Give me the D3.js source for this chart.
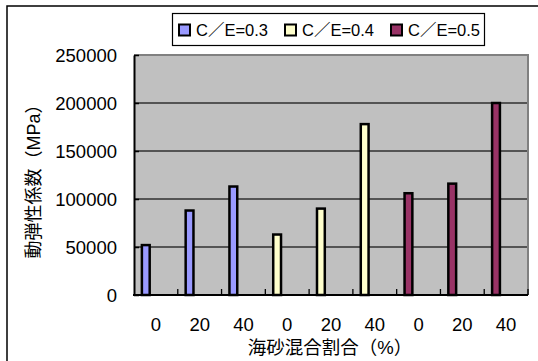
<!DOCTYPE html>
<html>
<head>
<meta charset="utf-8">
<script src="https://cdn.jsdelivr.net/npm/d3@7"></script>
<style>
  html, body { margin: 0; padding: 0; background: #fff; }
  svg { display: block; }
  text { font-family: "Liberation Sans", Arial, "Noto Sans CJK JP", sans-serif; fill: #000; }
</style>
</head>
<body>
<svg id="chart" width="538" height="361"></svg>
<script>
// Sea-sand mixing ratio categories (three groups, one per C/E ratio)
const categories = ["0", "20", "40", "0", "20", "40", "0", "20", "40"];
const seriesNames = ["C／E=0.3", "C／E=0.4", "C／E=0.5"];
const seriesColors = ["#9999FF", "#FFFFCC", "#993366"];
// Dynamic modulus of elasticity (MPa)
const valuesCE03 = [52000, 88000, 113000];
const valuesCE04 = [63000, 90000, 178000];
const valuesCE05 = [106000, 116000, 200000];
const yTicks = [0, 50000, 100000, 150000, 200000, 250000];
const yTitle = "動弾性係数（MPa）";
const xTitle = "海砂混合割合（%）";

const bars = [];
[valuesCE03, valuesCE04, valuesCE05].forEach((vals, s) => {
  vals.forEach((v, j) => bars.push({ idx: s * 3 + j, series: s, value: v }));
});

const svg = d3.select("#chart");
const plot = { left: 134, right: 528, top: 55, bottom: 295 };

// Outer chart frame
svg.append("rect")
  .attr("x", 7).attr("y", 6).attr("width", 560).attr("height", 380)
  .attr("fill", "#fff").attr("stroke", "#000").attr("stroke-width", 1.5);

const x = d3.scaleBand().domain(d3.range(categories.length))
  .range([plot.left, plot.right]).padding(0);
const y = d3.scaleLinear().domain([0, 250000]).range([plot.bottom, plot.top]);

// Plot area background
svg.append("rect")
  .attr("x", plot.left).attr("y", plot.top)
  .attr("width", plot.right - plot.left).attr("height", plot.bottom - plot.top)
  .attr("fill", "#C0C0C0");

// Gridlines
svg.append("g").selectAll("line")
  .data(yTicks.filter(t => t > 0 && t < 250000))
  .join("line")
  .attr("x1", plot.left).attr("x2", plot.right)
  .attr("y1", d => y(d)).attr("y2", d => y(d))
  .attr("stroke", "#303030").attr("stroke-width", 1.3);

// Plot border (top and right)
svg.append("path")
  .attr("d", `M${plot.left},${y(250000)}H${plot.right}V${plot.bottom}`)
  .attr("fill", "none").attr("stroke", "#808080").attr("stroke-width", 2);

// Bars
const bw = x.bandwidth();
svg.append("g").selectAll("rect")
  .data(bars)
  .join("rect")
  .attr("x", d => x(d.idx) + bw / 2 - 14)
  .attr("width", 7.8)
  .attr("y", d => y(d.value))
  .attr("height", d => y(0) - y(d.value))
  .attr("fill", d => seriesColors[d.series])
  .attr("stroke", "#000").attr("stroke-width", 2.5);

// Y axis
const yAxis = d3.axisLeft(y).tickValues(yTicks).tickSize(-5).tickSizeOuter(0)
  .tickPadding(17).tickFormat(d3.format("d"));
const gy = svg.append("g").attr("transform", `translate(${plot.left},0)`).call(yAxis);
gy.select(".domain").attr("stroke", "#000").attr("stroke-width", 2);
gy.selectAll(".tick line").attr("stroke", "#000").attr("stroke-width", 1.5);
gy.selectAll(".tick text").style("font-size", "18.5px").attr("dy", "0.35em");

// X axis: category labels centred, ticks on category boundaries pointing up
svg.append("line")
  .attr("x1", plot.left - 1).attr("x2", plot.right)
  .attr("y1", plot.bottom).attr("y2", plot.bottom)
  .attr("stroke", "#000").attr("stroke-width", 2);
svg.append("g").selectAll("line")
  .data(d3.range(1, categories.length + 1))
  .join("line")
  .attr("x1", d => plot.left + d * bw).attr("x2", d => plot.left + d * bw)
  .attr("y1", plot.bottom).attr("y2", plot.bottom - 6)
  .attr("stroke", "#000").attr("stroke-width", 1.3);
svg.append("g").selectAll("text")
  .data(categories)
  .join("text")
  .attr("x", (d, i) => x(i) + bw / 2)
  .attr("y", 331)
  .attr("text-anchor", "middle")
  .style("font-size", "18.5px")
  .text(d => d);

// Axis titles
svg.append("text")
  .attr("transform", "translate(40,177) rotate(-90)")
  .attr("text-anchor", "middle")
  .style("font-size", "18px")
  .text(yTitle);
svg.append("text")
  .attr("x", 330).attr("y", 354)
  .attr("text-anchor", "middle")
  .style("font-size", "18.5px")
  .text(xTitle);

// Legend
const legend = svg.append("g");
legend.append("rect")
  .attr("x", 172.5).attr("y", 13.5).attr("width", 312).attr("height", 32)
  .attr("fill", "#fff").attr("stroke", "#000").attr("stroke-width", 1.2);
const items = legend.selectAll("g.item")
  .data(seriesNames)
  .join("g").attr("class", "item")
  .attr("transform", (d, i) => `translate(${179 + i * 106},0)`);
items.append("rect")
  .attr("x", 0).attr("y", 24.5).attr("width", 11).attr("height", 11)
  .attr("fill", (d, i) => seriesColors[i])
  .attr("stroke", "#000").attr("stroke-width", 2);
items.append("text")
  .attr("x", 17).attr("y", 36)
  .style("font-size", "16.5px")
  .text(d => d);
</script>
</body>
</html>
